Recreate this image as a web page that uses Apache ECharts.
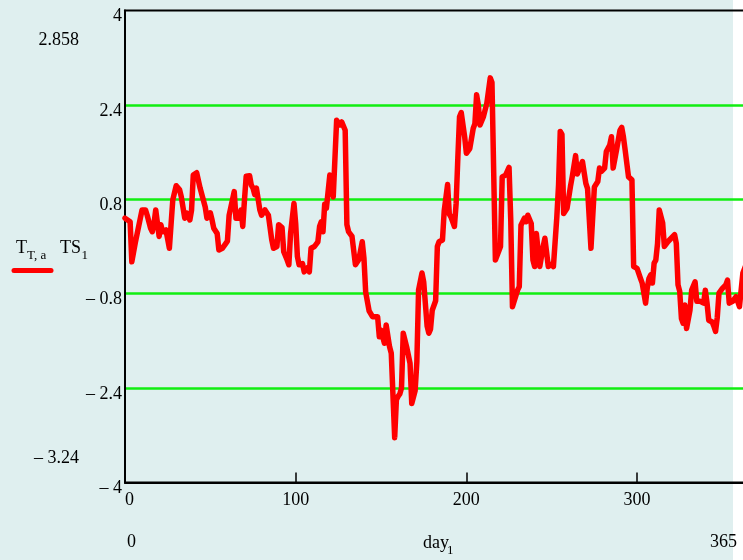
<!DOCTYPE html>
<html>
<head>
<meta charset="utf-8">
<script src="https://cdn.jsdelivr.net/npm/echarts@6/dist/echarts.min.js"></script>
<style>
  html, body { margin: 0; padding: 0; background: #ffffff; }
  #chart {
    width: 743px; height: 560px;
    background: linear-gradient(to right, #dfefef 733px, #ffffff 733px);
  }
</style>
</head>
<body>
<div id="chart"></div>
<script>
// Day positions of the trace vertices and the TS value at each of them
const days = [
  0, 3, 4, 6, 10, 12, 13, 15, 16, 17, 18, 19, 20, 21, 22, 24, 25, 26, 27, 28,
  30, 32, 33, 34, 35, 36, 37, 38, 39, 40, 42, 44, 45, 47, 48, 50, 51, 52, 54, 55,
  57, 59, 60, 61, 62, 64, 65, 67, 68, 69, 70, 71, 73, 74, 75, 76, 77, 79, 80, 82,
  84, 86, 87, 89, 90, 92, 93, 95, 96, 97, 99, 100, 101, 102, 104, 105, 106, 107, 108, 109,
  111, 113, 114, 115, 116, 117, 118, 120, 121, 122, 123, 124, 125, 126, 127, 129, 130, 131, 133, 135,
  136, 137, 139, 140, 141, 142, 143, 145, 146, 148, 149, 150, 152, 153, 154, 155, 156, 158, 159, 160,
  161, 162, 163, 164, 165, 166, 167, 168, 170, 171, 172, 174, 175, 177, 178, 179, 180, 182, 183, 184,
  185, 186, 187, 189, 190, 191, 193, 194, 195, 196, 197, 199, 200, 202, 204, 205, 206, 207, 208, 210,
  212, 214, 215, 217, 218, 220, 221, 223, 224, 225, 226, 227, 228, 230, 231, 232, 234, 235, 236, 238,
  239, 240, 241, 242, 243, 245, 246, 247, 248, 250, 251, 253, 254, 255, 256, 257, 258, 259, 260, 261,
  262, 263, 264, 265, 266, 268, 269, 270, 271, 273, 275, 277, 278, 279, 281, 282, 284, 285, 286, 288,
  290, 291, 292, 293, 295, 297, 298, 300, 301, 302, 303, 305, 306, 307, 308, 309, 310, 311, 312, 313,
  314, 315, 316, 318, 319, 320, 322, 323, 324, 325, 326, 327, 328, 329, 331, 332, 334, 335, 337, 338,
  339, 340, 341, 342, 344, 345, 346, 347, 348, 350, 352, 353, 354, 356, 358, 359, 360, 362, 364
];
const ts = [
  0.48, 0.42, -0.26, 0.06, 0.62, 0.62, 0.53, 0.31, 0.25, 0.39, 0.62, 0.60, 0.17, 0.37, 0.25, 0.28, 0.25, -0.03, -0.06, 0.79,
  1.03, 0.96, 0.84, 0.84, 0.48, 0.57, 0.53, 0.45, 0.62, 1.21, 1.25, 0.99, 0.97, 0.67, 0.48, 0.57, 0.45, 0.31, 0.22, -0.06,
  -0.03, 0.05, 0.09, 0.53, 0.55, 0.93, 0.48, 0.48, 0.62, 0.34, 0.79, 1.19, 1.20, 1.04, 0.99, 0.88, 0.99, 0.62, 0.53, 0.62,
  0.53, 0.11, -0.03, 0.00, 0.37, 0.32, -0.09, -0.23, -0.31, 0.22, 0.73, 0.39, -0.17, -0.31, -0.29, -0.43, -0.43, -0.36, -0.43, -0.03,
  0.00, 0.08, 0.34, 0.42, 0.25, 0.72, 0.65, 1.21, 1.21, 0.84, 0.82, 2.14, 2.17, 2.06, 2.11, 1.97, 0.37, 0.25, 0.17, -0.31,
  -0.31, -0.22, 0.08, -0.20, -0.77, -0.80, -1.09, -1.19, -1.16, -1.19, -1.53, -1.42, -1.64, -1.33, -1.33, -1.70, -1.81, -3.24, -2.60, -2.54,
  -2.50, -2.40, -1.47, -1.50, -1.70, -1.70, -1.98, -2.66, -2.44, -1.95, -0.74, -0.45, -0.60, -1.35, -1.47, -1.40, -1.08, -0.92, 0.00, 0.08,
  0.10, 0.11, 0.60, 1.05, 0.55, 0.50, 0.34, 0.73, 1.50, 2.20, 2.27, 1.86, 1.58, 1.66, 2.00, 2.08, 2.57, 2.40, 2.06, 2.20,
  2.43, 2.858, 2.78, -0.23, -0.23, 0.00, 1.18, 1.21, 1.23, 1.34, 0.45, -1.02, -1.05, -0.74, -0.68, 0.36, 0.48, 0.42, 0.53, 0.39,
  -0.23, -0.34, 0.22, 0.25, -0.34, 0.00, 0.14, -0.10, -0.34, -0.30, -0.34, 0.50, 1.04, 1.95, 1.90, 0.56, 0.56, 0.65, 0.62, 1.02,
  1.18, 1.18, 1.54, 1.23, 1.21, 1.44, 1.42, 1.07, 0.98, -0.03, 1.01, 1.10, 1.33, 1.27, 1.33, 1.61, 1.72, 1.86, 1.33, 1.64,
  1.97, 2.02, 1.86, 1.64, 1.18, 1.13, -0.34, -0.37, -0.40, -0.54, -0.62, -0.96, -0.70, -0.54, -0.48, -0.62, -0.28, -0.23, 0.05, 0.62,
  0.65, 0.40, 0.00, 0.08, 0.11, 0.14, 0.20, 0.05, -0.65, -0.76, -1.22, -1.30, -0.99, -1.39, -1.08, -0.74, -0.60, -0.93, -0.93, -0.90,
  -0.96, -0.74, -0.96, -1.25, -1.28, -1.35, -1.44, -1.20, -0.79, -0.71, -0.65, -0.57, -0.96, -0.93, -0.85, -0.82, -1.02, -0.45, -0.30
];

// Axis ranges and tick labels
const yTicks = [-4, -2.4, -0.8, 0.8, 2.4, 4];
const yTickLabels = ['\u2013 4', '\u2013 2.4', '\u2013 0.8', '0.8', '2.4', '4'];
const xTicks = [0, 100, 200, 300];
const xRange = [0, 365];
const yRange = [-4, 4];
const yMaxText = '2.858';
const yMinText = '\u2013 3.24';

const serif = '"Liberation Serif", "DejaVu Serif", serif';
const chart = echarts.init(document.getElementById('chart'), null, { renderer: 'canvas' });

function yLabel(v) {
  let best = 0;
  yTicks.forEach((t, i) => { if (Math.abs(t - v) < Math.abs(yTicks[best] - v)) best = i; });
  return yTickLabels[best];
}

chart.setOption({
  backgroundColor: 'transparent',
  animation: false,
  grid: {
    left: 125, top: 10.5, width: 623, height: 472,
    outerBoundsMode: 'none', containLabel: false,
    show: true, borderColor: '#000', borderWidth: 2, backgroundColor: 'transparent'
  },
  xAxis: {
    type: 'value',
    min: xRange[0], max: xRange[1], interval: xTicks[1] - xTicks[0],
    axisLine: { show: true, onZero: false, lineStyle: { color: '#000', width: 2 } },
    axisTick: { show: true, inside: true, length: 10, lineStyle: { color: '#000', width: 1.5 } },
    splitLine: { show: false },
    axisLabel: {
      show: true, margin: 9, color: '#000', fontFamily: serif, fontSize: 18,
      showMaxLabel: false, alignMinLabel: 'left',
      formatter: v => String(Math.round(v))
    }
  },
  yAxis: {
    type: 'value',
    min: yRange[0], max: yRange[1], interval: 1.6,
    axisLine: { show: true, onZero: false, lineStyle: { color: '#000', width: 2 } },
    axisTick: { show: false },
    splitLine: {
      show: true, showMinLine: false, showMaxLine: false,
      lineStyle: { color: '#11ee11', width: 2.5 }
    },
    axisLabel: {
      show: true, margin: 3, color: '#000', fontFamily: serif, fontSize: 18,
      verticalAlign: 'top', lineHeight: 12,
      formatter: v => yLabel(v)
    }
  },
  series: [{
    type: 'line',
    data: days.map((d, i) => [d, ts[i]]),
    showSymbol: false,
    symbol: 'none',
    clip: true,
    z: 3,
    lineStyle: { color: '#ff0000', width: 5.5, cap: 'round', join: 'round' }
  }],
  graphic: [
    { type: 'text', x: 79, y: 40,
      style: { text: yMaxText, font: '18px ' + serif, fill: '#000', align: 'right', verticalAlign: 'middle' } },
    { type: 'text', x: 79, y: 458,
      style: { text: yMinText, font: '18px ' + serif, fill: '#000', align: 'right', verticalAlign: 'middle' } },
    { type: 'text', x: 127, y: 542,
      style: { text: String(xRange[0]), font: '18px ' + serif, fill: '#000', align: 'left', verticalAlign: 'middle' } },
    { type: 'text', x: 737, y: 542,
      style: { text: String(xRange[1]), font: '18px ' + serif, fill: '#000', align: 'right', verticalAlign: 'middle' } },
    { type: 'text', x: 423, y: 543,
      style: { text: 'day', font: '18px ' + serif, fill: '#000', align: 'left', verticalAlign: 'middle' } },
    { type: 'text', x: 447, y: 551,
      style: { text: '1', font: '13px ' + serif, fill: '#000', align: 'left', verticalAlign: 'middle' } },
    // legend entry
    { type: 'text', x: 16, y: 248,
      style: { text: 'T', font: '18px ' + serif, fill: '#000', align: 'left', verticalAlign: 'middle' } },
    { type: 'text', x: 27, y: 256,
      style: { text: 'T, a', font: '13px ' + serif, fill: '#000', align: 'left', verticalAlign: 'middle' } },
    { type: 'text', x: 60, y: 248,
      style: { text: 'TS', font: '18px ' + serif, fill: '#000', align: 'left', verticalAlign: 'middle' } },
    { type: 'text', x: 81.5, y: 256,
      style: { text: '1', font: '13px ' + serif, fill: '#000', align: 'left', verticalAlign: 'middle' } },
    { type: 'line', shape: { x1: 14, y1: 270.5, x2: 51, y2: 270.5 },
      style: { stroke: '#ff0000', lineWidth: 5, lineCap: 'round' } }
  ]
});
</script>
</body>
</html>
